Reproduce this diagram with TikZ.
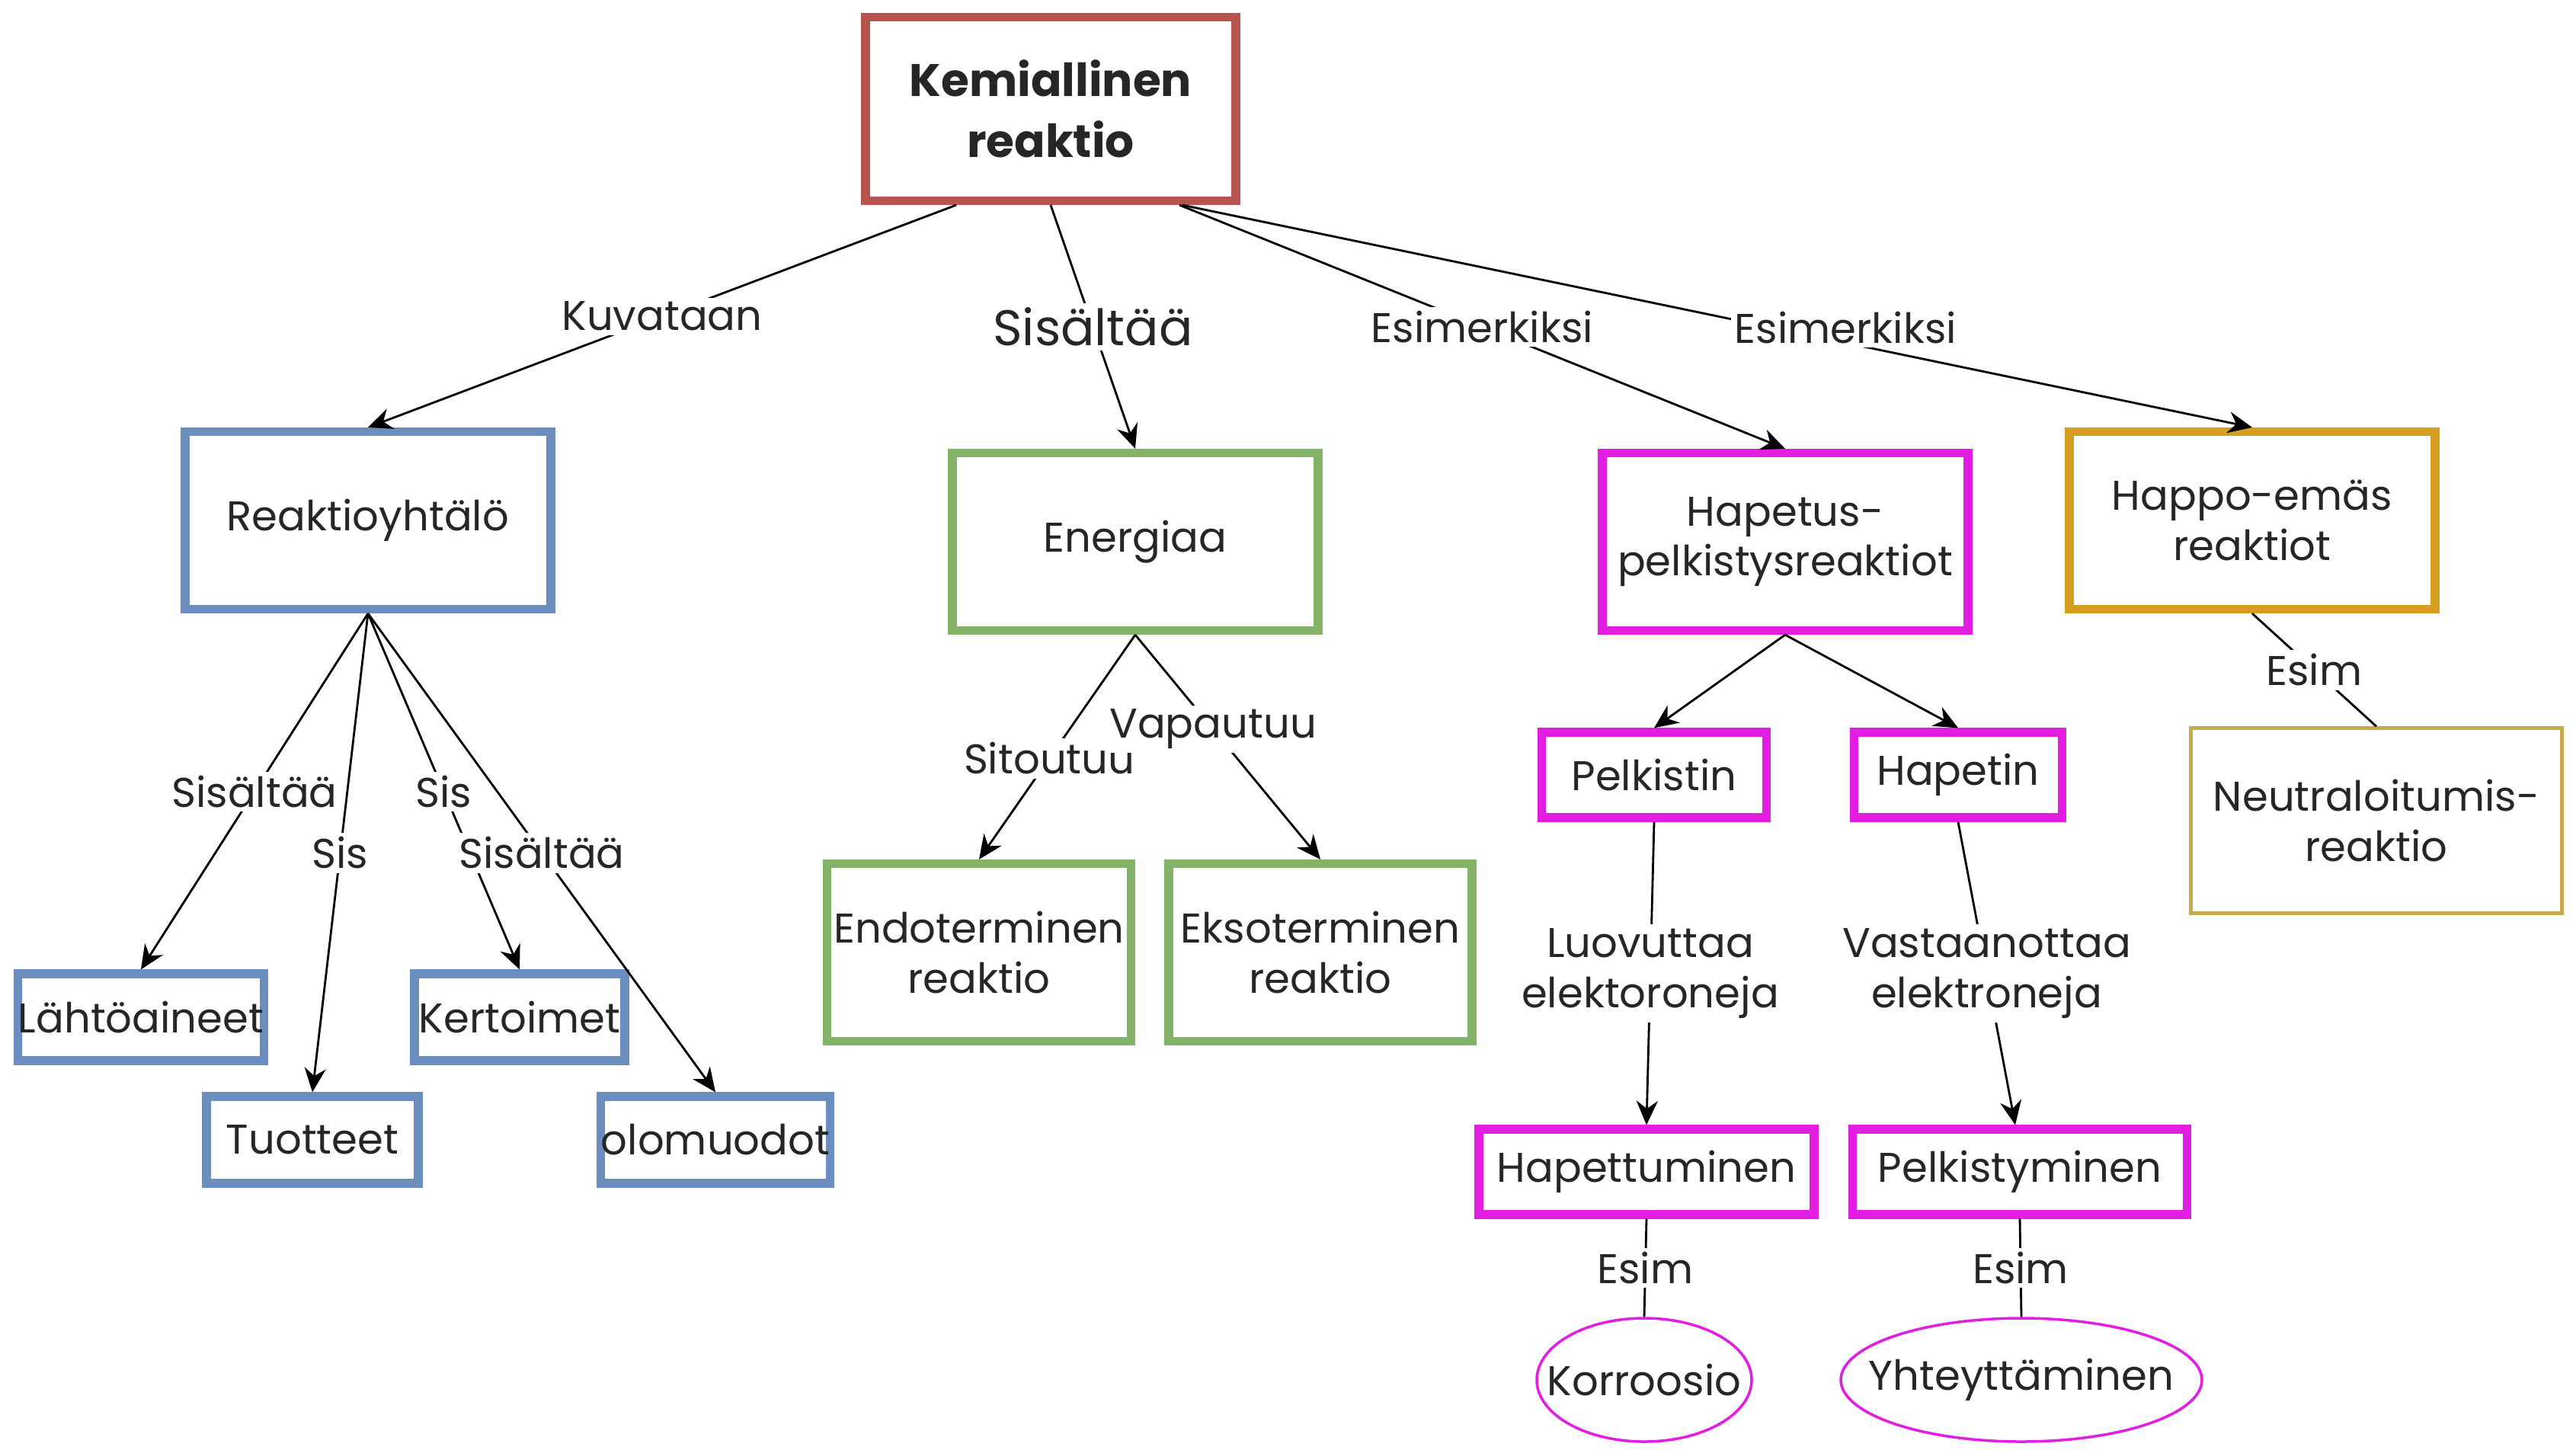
\documentclass[tikz,border=0pt]{standalone}
\usepackage{fontspec}
\setmainfont{Poppins}
\usetikzlibrary{arrows.meta, shapes}

\definecolor{kemred}{HTML}{B85450}
\definecolor{reakblue}{HTML}{6C8EBF}
\definecolor{energreen}{HTML}{82B366}
\definecolor{redoxpink}{HTML}{E31EE3}
\definecolor{happogold}{HTML}{D69E1E}
\definecolor{neutgold}{HTML}{C9A94E}

\begin{document}
\begin{tikzpicture}[every node/.style={align=center, text=black!85, font=\fontsize{15.5}{18.6}\selectfont},
				   box/.style={draw, line width=3.2pt, minimum width=4.8cm, minimum height=2.33cm, inner sep=0pt},
				   small/.style={box, minimum width=2.78cm, minimum height=1.14cm},
				   oval/.style={ellipse, draw=redoxpink, line width=1pt, minimum height=1.62cm, inner ysep=0pt, inner xsep=-0.4cm},
				   lbl/.style={fill=white, inner sep=1.5pt},
				   arr/.style={-{Stealth[length=9pt,width=8pt]}, line width=0.8pt},
				   link/.style={line width=0.8pt}]
\useasboundingbox[fill=white] (0,0) rectangle (33.81,-19.02);

% ylin taso
\node[box, draw=kemred, minimum width=4.86cm, minimum height=2.41cm, font=\bfseries\fontsize{17}{22.7}\selectfont] (kemiallinen) at (13.79,-1.43) {Kemiallinen\\reaktio};
\node[box, draw=reakblue] (yhtalo) at (4.83,-6.83) {Reaktioyhtälö};
\node[box, draw=energreen] (energia) at (14.90,-7.11) {Energiaa};
\node[box, draw=redoxpink] (redox) at (23.43,-7.11) {Hapetus-\\pelkistysreaktiot};
\node[box, draw=happogold] (happo) at (29.56,-6.83) {Happo-emäs\\reaktiot};

% reaktioyhtalo
\node[small, draw=reakblue, minimum width=3.16cm] (lahto) at (1.85,-13.35) {Lähtöaineet};
\node[small, draw=reakblue] (tuotteet) at (4.10,-14.96) {Tuotteet};
\node[small, draw=reakblue, minimum width=2.76cm] (kertoimet) at (6.82,-13.35) {Kertoimet};
\node[small, draw=reakblue, minimum width=2.75cm] (olomuodot) at (9.39,-14.96) {olomuodot};

% energia
\node[box, draw=energreen, minimum width=3.99cm] (endo) at (12.85,-12.50) {Endoterminen\\reaktio};
\node[box, draw=energreen, minimum width=3.98cm] (ekso) at (17.33,-12.50) {Eksoterminen\\reaktio};

% hapetus-pelkistys
\node[small, draw=redoxpink, minimum width=2.95cm, minimum height=1.12cm] (pelkistin) at (21.71,-10.17) {Pelkistin};
\node[small, draw=redoxpink, minimum width=2.73cm, minimum height=1.12cm] (hapetin) at (25.70,-10.17) {Hapetin};
\node[small, draw=redoxpink, minimum width=4.40cm, minimum height=1.12cm] (hapettuminen) at (21.61,-15.38) {Hapettuminen};
\node[small, draw=redoxpink, minimum width=4.39cm, minimum height=1.12cm] (pelkistyminen) at (26.51,-15.38) {Pelkistyminen};
\node[oval, minimum width=2.82cm] (korroosio) at (21.58,-18.11) {Korroosio};
\node[oval, minimum width=4.74cm] (yhteyttaminen) at (26.53,-18.11) {Yhteyttäminen};

% happo-emas
\node[box, draw=neutgold, line width=1.2pt, minimum width=4.87cm, minimum height=2.43cm] (neutraloitumis) at (31.19,-10.77) {Neutraloitumis-\\reaktio};

% yhteydet
\draw[arr] ([xshift=-1.24cm]kemiallinen.south) -- node[lbl]{Kuvataan} (yhtalo.north);
\draw[arr] (kemiallinen.south) -- node[lbl, font=\fontsize{18.7}{22}\selectfont]{Sisältää} (energia.north);
\draw[arr] ([xshift=1.69cm]kemiallinen.south) -- node[lbl]{Esimerkiksi} (redox.north);
\draw[arr] ([xshift=1.73cm]kemiallinen.south) -- node[lbl, pos=0.62, yshift=0.2cm]{Esimerkiksi} (happo.north);

\draw[arr] (yhtalo.south) -- node[lbl]{Sisältää} (lahto.north);
\draw[arr] (yhtalo.south) -- node[lbl]{Sis} (tuotteet.north);
\draw[arr] (yhtalo.south) -- node[lbl]{Sis} (kertoimet.north);
\draw[arr] (yhtalo.south) -- node[lbl]{Sisältää} (olomuodot.north);

\draw[arr] (energia.south) -- node[lbl, pos=0.55]{Sitoutuu} (endo.north);
\draw[arr] (energia.south) -- node[lbl, pos=0.42]{Vapautuu} (ekso.north);

\draw[arr] (redox.south) -- (pelkistin.north);
\draw[arr] (redox.south) -- (hapetin.north);
\draw[arr] (pelkistin.south) -- node[lbl]{Luovuttaa\\elektoroneja} (hapettuminen.north);
\draw[arr] (hapetin.south) -- node[lbl]{Vastaanottaa\\elektroneja} ([xshift=-0.06cm]pelkistyminen.north);
\draw[link] (hapettuminen.south) -- node[lbl]{Esim} (korroosio.north);
\draw[link] (pelkistyminen.south) -- node[lbl]{Esim} (yhteyttaminen.north);

\draw[link] (happo.south) -- node[lbl]{Esim} (neutraloitumis.north);
\end{tikzpicture}
\end{document}
